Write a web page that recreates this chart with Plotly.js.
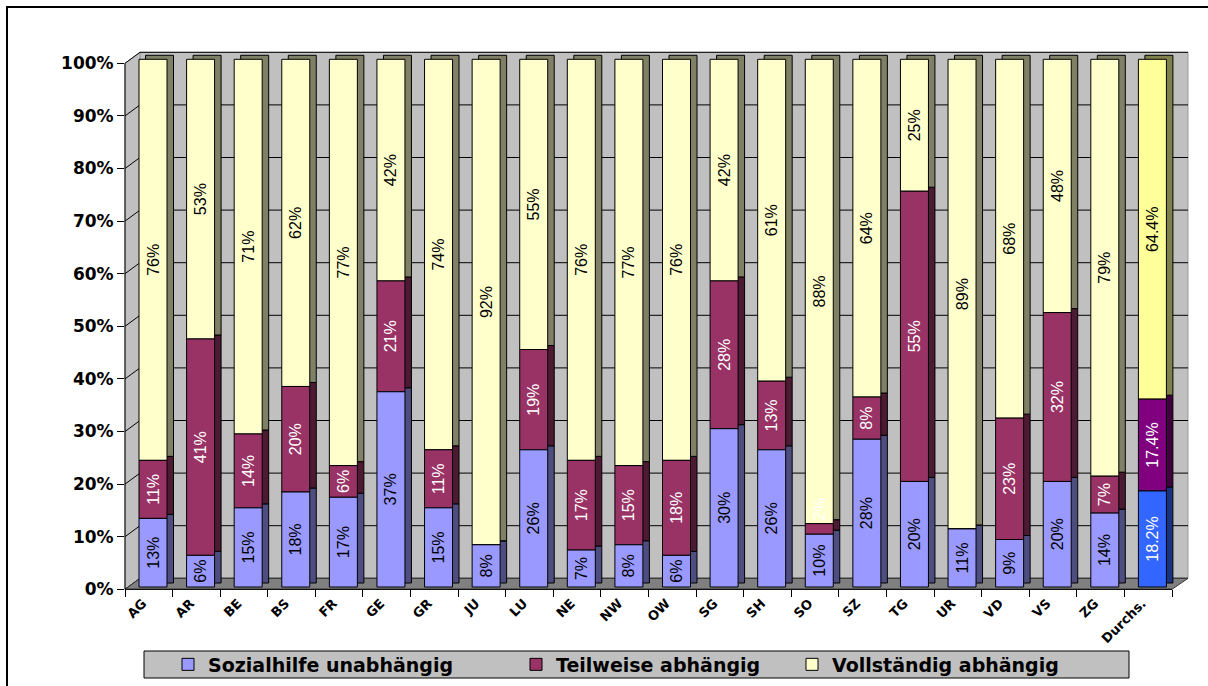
<!DOCTYPE html>
<html>
<head>
<meta charset="utf-8">
<script src="https://cdn.plot.ly/plotly-3.0.1.min.js"></script>
<style>
  html, body { margin: 0; padding: 0; background: #ffffff; }
  #chart { width: 1208px; height: 686px; }
</style>
</head>
<body>
<div id="chart"></div>
<script>
// Kantone und Durchschnitt
const categories = ['AG','AR','BE','BS','FR','GE','GR','JU','LU','NE','NW','OW','SG','SH','SO','SZ','TG','UR','VD','VS','ZG','Durchs.'];

// Anteile in Prozent
const unabhaengig  = [13, 6, 15, 18, 17, 37, 15, 8, 26, 7, 8, 6, 30, 26, 10, 28, 20, 11, 9, 20, 14, 18.2];
const teilweise    = [11, 41, 14, 20, 6, 21, 11, 0, 19, 17, 15, 18, 28, 13, 2, 8, 55, 0, 23, 32, 7, 17.4];
const vollstaendig = [76, 53, 71, 62, 77, 42, 74, 92, 55, 76, 77, 76, 42, 61, 88, 64, 25, 89, 68, 48, 79, 64.4];

const seriesNames = ['Sozialhilfe unabhängig', 'Teilweise abhängig', 'Vollständig abhängig'];
const yTickValues = [0, 10, 20, 30, 40, 50, 60, 70, 80, 90, 100];

// ---- geometry of the 3-D frame (pixels of the 1208x686 figure) ----
const W = 1208, H = 686;
const px = x => x / W;
const py = y => 1 - y / H;
const frontLeft = 125, frontRight = 1172, backLeft = 140, backRight = 1188;
const frontZero = 589.3, backZero = 578.3, pxPerPct = 5.26;
const yFront = v => frontZero - pxPerPct * v;
const yBack = v => backZero - pxPerPct * v;
const plotTop = 52, plotBottom = 589.3;
const catWidthPx = (frontRight - frontLeft) / categories.length;
const xRange = [-0.5, -0.5 + (backRight - frontLeft) / catWidthPx];

// bar axes: front faces (y2) and the shifted darker copies forming side/top faces (y)
const barZeroPx = 587, barHundredPx = 59.3;
const barScale = (barZeroPx - barHundredPx) / 100;
const barRange = [-(plotBottom - barZeroPx) / barScale, 100 + (barHundredPx - plotTop) / barScale];
const depthX = 6.5, depthY = 4;
const sideRange = [barRange[0] - depthY / barScale, barRange[1] - depthY / barScale];
// percent ticks of the front edge, expressed in units of the side axis
const tickPositions = yTickValues.map(v => sideRange[0] + (plotBottom - yFront(v)) / barScale);

const barWidth = 28 / catWidthPx;
const frontOffset = -9.8 / catWidthPx;
const sideOffset = frontOffset + depthX / catWidthPx;

// colours: regular cantons, last bar (average) highlighted
const lastIdx = categories.length - 1;
const colourFor = (normal, special) => categories.map((c, i) => i === lastIdx ? special : normal);
const frontColours = [
  colourFor('#9999ff', '#3366ff'),
  colourFor('#993366', '#800080'),
  colourFor('#ffffcc', '#ffff99')
];
const sideColours = [
  colourFor('#4d4d80', '#1a3380'),
  colourFor('#4d1a33', '#400040'),
  colourFor('#808066', '#80804d')
];
const labelColours = [
  colourFor('#000000', '#ffffff'),
  colourFor('#ffffff', '#ffffff'),
  colourFor('#000000', '#000000')
];

const values = [unabhaengig, teilweise, vollstaendig];
const bases = [
  categories.map(() => 0),
  unabhaengig.slice(),
  unabhaengig.map((v, i) => v + teilweise[i])
];
const labels = values.map(arr => arr.map(v => v > 0 ? v + '%' : ''));
// segments too short for their label get it placed just above them
const labelPositions = values.map(arr => arr.map(v => v * barScale < 24 ? 'outside' : 'inside'));

const traces = [];
// side / top faces (drawn first, behind)
for (let s = 0; s < 3; s++) {
  traces.push({
    type: 'bar', x: categories, y: values[s], base: bases[s],
    xaxis: 'x', yaxis: 'y',
    width: barWidth, offset: sideOffset,
    marker: { color: sideColours[s], line: { color: '#000000', width: 1 } },
    showlegend: false, hoverinfo: 'skip'
  });
}
// front faces, top segment first so lower labels stay readable
const legendIds = ['legend', 'legend2', 'legend3'];
for (let s = 2; s >= 0; s--) {
  const labelFont = { family: 'Liberation Sans, Arial, sans-serif', size: 16, color: labelColours[s] };
  traces.push({
    type: 'bar', name: seriesNames[s], x: categories, y: values[s], base: bases[s],
    xaxis: 'x', yaxis: 'y2',
    width: barWidth, offset: frontOffset,
    marker: { color: frontColours[s], line: { color: '#000000', width: 1 } },
    text: labels[s], textposition: labelPositions[s], insidetextanchor: 'middle',
    textangle: -90, constraintext: 'none', cliponaxis: false,
    insidetextfont: labelFont, outsidetextfont: labelFont,
    legend: legendIds[s], hoverinfo: 'skip'
  });
}

// ---- decorative frame: walls, floor, grid, outline, legend box ----
const shapes = [];
// outer frame
shapes.push({ type: 'line', xref: 'paper', yref: 'paper', x0: px(6), x1: 1, y0: py(7), y1: py(7), line: { color: '#000', width: 2 } });
shapes.push({ type: 'line', xref: 'paper', yref: 'paper', x0: px(7), x1: px(7), y0: py(6), y1: 0, line: { color: '#000', width: 2 } });
// back wall
shapes.push({ type: 'rect', xref: 'paper', yref: 'paper', layer: 'below',
  x0: px(backLeft), x1: px(backRight), y0: py(yBack(0)), y1: py(yBack(100)),
  fillcolor: '#c0c0c0', line: { color: '#9a9a9a', width: 1 } });
// side wall
const sidePath = 'M' + px(frontLeft) + ',' + py(yFront(0)) +
  'L' + px(frontLeft) + ',' + py(yFront(100)) +
  'L' + px(backLeft) + ',' + py(yBack(100)) +
  'L' + px(backLeft) + ',' + py(yBack(0)) + 'Z';
shapes.push({ type: 'path', xref: 'paper', yref: 'paper', layer: 'below', path: sidePath,
  fillcolor: '#c0c0c0', line: { color: '#9a9a9a', width: 1 } });
// grid on the back wall and connectors on the side wall
yTickValues.forEach(v => {
  shapes.push({ type: 'line', xref: 'paper', yref: 'paper', layer: 'below',
    x0: px(backLeft), x1: px(backRight), y0: py(yBack(v)), y1: py(yBack(v)),
    line: { color: '#000000', width: 1 } });
  shapes.push({ type: 'line', xref: 'paper', yref: 'paper', layer: 'below',
    x0: px(frontLeft), x1: px(backLeft), y0: py(yFront(v)), y1: py(yBack(v)),
    line: { color: '#000000', width: 1 } });
});
// floor
const floorPath = 'M' + px(frontLeft) + ',' + py(yFront(0)) +
  'L' + px(backLeft) + ',' + py(yBack(0)) +
  'L' + px(backRight) + ',' + py(yBack(0)) +
  'L' + px(frontRight) + ',' + py(yFront(0)) + 'Z';
shapes.push({ type: 'path', xref: 'paper', yref: 'paper', layer: 'below', path: floorPath,
  fillcolor: '#808080', line: { color: '#333333', width: 1 } });
// front axis lines
shapes.push({ type: 'line', xref: 'paper', yref: 'paper', layer: 'below',
  x0: px(frontLeft), x1: px(frontLeft), y0: py(yFront(0)), y1: py(yFront(100)),
  line: { color: '#000000', width: 1 } });
shapes.push({ type: 'line', xref: 'paper', yref: 'paper', layer: 'below',
  x0: px(frontLeft), x1: px(frontRight), y0: py(yFront(0)), y1: py(yFront(0)),
  line: { color: '#000000', width: 1 } });
// legend box
shapes.push({ type: 'rect', xref: 'paper', yref: 'paper', layer: 'below',
  x0: px(144), x1: px(1129), y0: py(651), y1: py(678),
  fillcolor: '#c0c0c0', line: { color: '#000000', width: 1 } });

const legendFont = { family: 'DejaVu Sans, sans-serif', size: 19, color: '#000000', weight: 'bold' };
const legendBase = { orientation: 'h', xanchor: 'left', yanchor: 'middle', y: py(664.5),
  bgcolor: 'rgba(0,0,0,0)', borderwidth: 0, font: legendFont };

const layout = {
  width: W, height: H,
  margin: { l: 0, r: 0, t: 0, b: 0 },
  paper_bgcolor: '#ffffff', plot_bgcolor: 'rgba(0,0,0,0)',
  barmode: 'overlay',
  showlegend: true,
  legend: Object.assign({}, legendBase, { x: px(168) }),
  legend2: Object.assign({}, legendBase, { x: px(516) }),
  legend3: Object.assign({}, legendBase, { x: px(792) }),
  xaxis: {
    type: 'category', domain: [px(frontLeft), px(backRight)], range: xRange,
    anchor: 'y', tickson: 'boundaries', ticks: 'outside', ticklen: 7, tickcolor: '#000',
    tickangle: -45, ticklabelshift: -6, ticklabelstandoff: 3,
    showgrid: false, zeroline: false, showline: false,
    tickfont: { family: 'DejaVu Sans, sans-serif', size: 13, color: '#000', weight: 'bold' },
    fixedrange: true
  },
  yaxis: {
    domain: [py(plotBottom), py(plotTop)], range: sideRange,
    anchor: 'x', tickmode: 'array', tickvals: tickPositions, ticktext: yTickValues.map(v => v + '%'),
    ticks: 'outside', ticklen: 7, tickcolor: '#000',
    showgrid: false, zeroline: false, showline: false,
    tickfont: { family: 'DejaVu Sans, sans-serif', size: 17, color: '#000', weight: 'bold' },
    fixedrange: true
  },
  yaxis2: { overlaying: 'y', anchor: 'x', range: barRange, visible: false, fixedrange: true },
  shapes: shapes
};

Plotly.newPlot('chart', traces, layout, { displayModeBar: false, staticPlot: true });
</script>
</body>
</html>
